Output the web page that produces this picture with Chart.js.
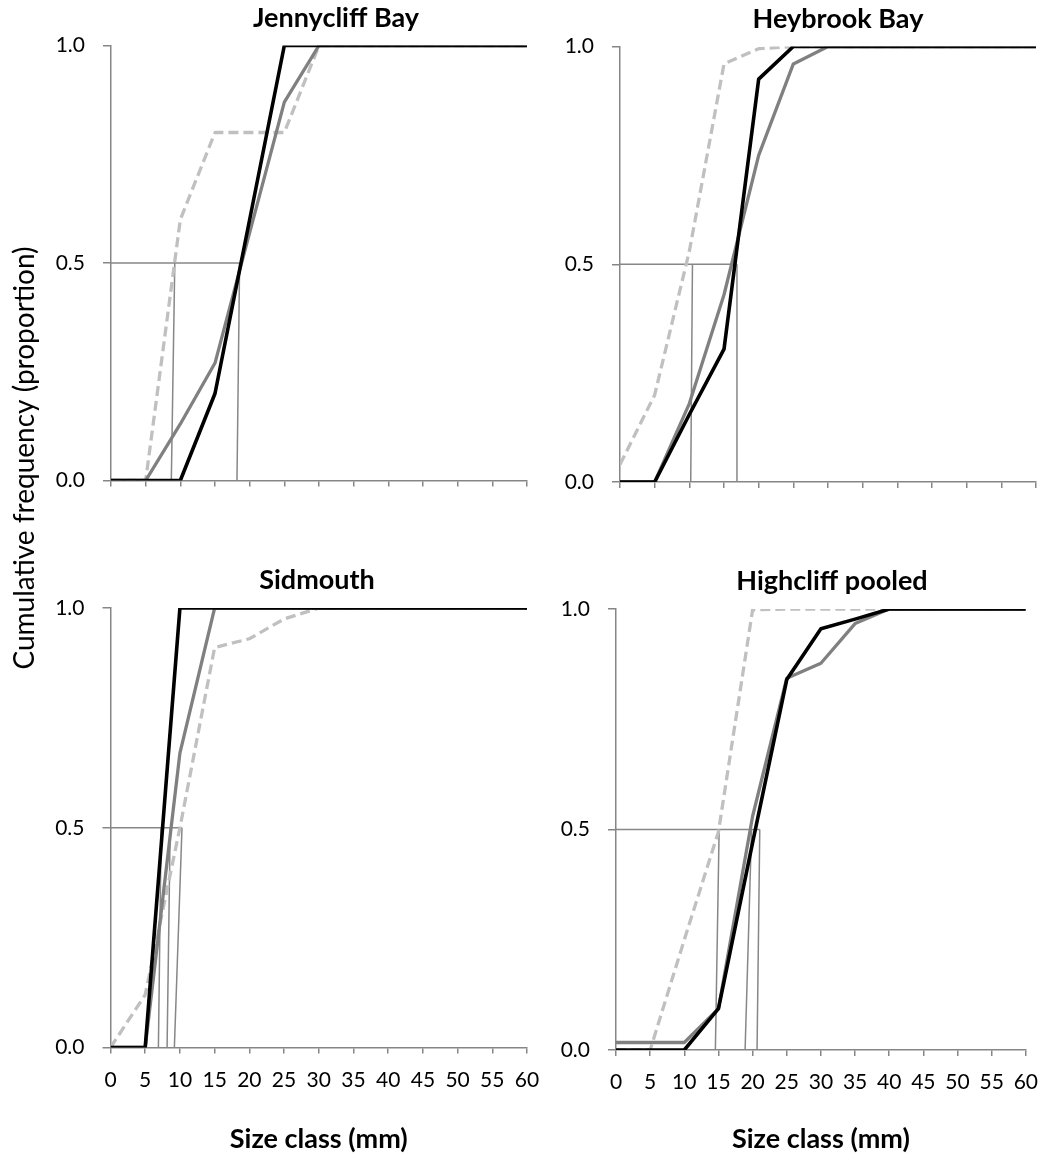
<!DOCTYPE html>
<html><head><meta charset="utf-8">
<script src="https://cdn.jsdelivr.net/npm/chart.js@4.4.1/dist/chart.umd.min.js"></script>
<style>
html,body{margin:0;padding:0;background:#fff;width:1052px;height:1157px;overflow:hidden}
canvas{position:absolute;left:0;top:0}
</style></head><body>
<canvas id="c0" width="1052" height="1157"></canvas>
<canvas id="c1" width="1052" height="1157"></canvas>
<canvas id="c2" width="1052" height="1157"></canvas>
<canvas id="c3" width="1052" height="1157"></canvas>
<script>
// ---- data ----
const sizeClasses = [0, 5, 10, 15, 20, 25, 30, 35, 40, 45, 50, 55, 60];
const yTickLabels = ['0.0', '0.5', '1.0'];
const panelTitles = ['Jennycliff Bay', 'Heybrook Bay', 'Sidmouth', 'Highcliff pooled'];
const xAxisTitle = 'Size class (mm)';
const yAxisTitle = 'Cumulative frequency (proportion)';
const medianLevel = 0.5;

// black solid series
const jennycliffBlack = [0, 0, 0, 0.20, 0.60, 1, 1, 1, 1, 1, 1, 1, 1];
const heybrookBlack   = [0, 0, 0.155, 0.305, 0.925, 1, 1, 1, 1, 1, 1, 1, 1];
const sidmouthBlack   = [0, 0, 1, 1, 1, 1, 1, 1, 1, 1, 1, 1, 1];
const highcliffBlack  = [0, 0, 0, 0.094, 0.47, 0.84, 0.955, 0.977, 1, 1, 1, 1, 1];

// grey solid series
const jennycliffGrey = [0, 0, 0.13, 0.27, 0.57, 0.87, 1, 1, 1, 1, 1, 1, 1];
const heybrookGrey   = [0, 0, 0.18, 0.43, 0.75, 0.96, 1, 1, 1, 1, 1, 1, 1];
const sidmouthGrey   = [0, 0, 0.67, 1, 1, 1, 1, 1, 1, 1, 1, 1, 1];
const highcliffGrey  = [0.017, 0.017, 0.017, 0.094, 0.53, 0.843, 0.877, 0.967, 1, 1, 1, 1, 1];

// light grey dashed series
const jennycliffDashed = [0, 0, 0.60, 0.80, 0.80, 0.80, 1, 1, 1, 1, 1, 1, 1];
const heybrookDashed   = [0.04, 0.20, 0.53, 0.96, 0.995, 1, 1, 1, 1, 1, 1, 1, 1];
const sidmouthDashed   = [0, 0.12, 0.50, 0.91, 0.93, 0.975, 1, 1, 1, 1, 1, 1, 1];
const highcliffDashed  = [0, 0, 0.25, 0.495, 0.998, 1, 1, 1, 1, 1, 1, 1, 1];

// median (50%) size read-offs: x at the 0.5 level and x where the drop line meets 0
const jennycliffMedianTop    = [9.2, 18.55];
const jennycliffMedianBottom = [8.7, 18.17];
const heybrookMedianTop      = [10.45, 16.87];
const heybrookMedianBottom   = [10.2, 16.87];
const sidmouthMedianTop      = [7.3, 8.6, 10.3];
const sidmouthMedianBottom   = [6.9, 8.15, 9.2];
const highcliffMedianTop     = [15.1, 19.85, 21.05];
const highcliffMedianBottom  = [14.55, 18.9, 20.65];

// ---- layout (pixel boxes of each plot area) ----
const boxes = [
  {left: 111,   top: 45.5, right: 527,  bottom: 480.5, titleX: 336, titleBase: 27, showX: false},
  {left: 620,   top: 46.5, right: 1036, bottom: 482,   titleX: 838, titleBase: 28, showX: false},
  {left: 110.5, top: 608,  right: 527,  bottom: 1047.5, titleX: 317, titleBase: 589, showX: true},
  {left: 616,   top: 609,  right: 1031, bottom: 1050,  titleX: 832, titleBase: 590, showX: true}
];

const panels = [
  {title: panelTitles[0], black: jennycliffBlack, grey: jennycliffGrey, dashed: jennycliffDashed, medTop: jennycliffMedianTop, medBottom: jennycliffMedianBottom},
  {title: panelTitles[1], black: heybrookBlack, grey: heybrookGrey, dashed: heybrookDashed, medTop: heybrookMedianTop, medBottom: heybrookMedianBottom},
  {title: panelTitles[2], black: sidmouthBlack, grey: sidmouthGrey, dashed: sidmouthDashed, medTop: sidmouthMedianTop, medBottom: sidmouthMedianBottom},
  {title: panelTitles[3], black: highcliffBlack, grey: highcliffGrey, dashed: highcliffDashed, medTop: highcliffMedianTop, medBottom: highcliffMedianBottom}
];

Chart.defaults.color = '#000';
Chart.defaults.font.family = 'Lato, "Open Sans", sans-serif';

const W = 1052, H = 1157;
const Y_AXIS_W = 70;
const X_AXIS_H_TOP = 20;
const AXIS_COL = '#868686';
const MED_COL = '#878787';

function pts(xs, ys) { return xs.map((x, i) => ({x: x, y: ys[i]})); }

const titlePlugin = {
  id: 'panelTitle',
  afterDraw(chart, args, opts) {
    const ctx = chart.ctx;
    ctx.save();
    ctx.font = 'bold 27px Lato, "Open Sans", sans-serif';
    ctx.fillStyle = '#000';
    ctx.textAlign = 'center';
    ctx.textBaseline = 'alphabetic';
    ctx.fillText(opts.text, opts.x, opts.y);
    if (opts.yTitle) {
      ctx.translate(opts.yTitle.x, opts.yTitle.y);
      ctx.rotate(-Math.PI / 2);
      ctx.font = '28px Lato, "Open Sans", sans-serif';
      ctx.fillText(opts.yTitle.text, 0, 0);
    }
    ctx.restore();
  }
};

panels.forEach((p, idx) => {
  const b = boxes[idx];
  const xH = b.showX ? (H - b.bottom) : X_AXIS_H_TOP;
  const medLine = {borderColor: MED_COL, borderWidth: 1.5, pointRadius: 0, fill: false, tension: 0};
  const datasets = [
    {data: pts(sizeClasses, p.black), borderColor: '#000', borderWidth: 3.6, pointRadius: 0, fill: false, tension: 0, borderJoinStyle: 'round'},
    {data: pts(sizeClasses, p.grey), borderColor: '#808080', borderWidth: 3.3, pointRadius: 0, fill: false, tension: 0, borderJoinStyle: 'round'},
    {data: pts(sizeClasses, p.dashed), borderColor: '#c0c0c0', borderWidth: 3.3, borderDash: [10, 5], pointRadius: 0, fill: false, tension: 0, borderJoinStyle: 'round'},
    Object.assign({data: [{x: 0, y: medianLevel}, {x: Math.max(...p.medTop), y: medianLevel}]}, medLine)
  ];
  p.medTop.forEach((t, i) => {
    datasets.push(Object.assign({data: [{x: t, y: medianLevel}, {x: p.medBottom[i], y: 0}]}, medLine));
  });

  new Chart(document.getElementById('c' + idx), {
    type: 'line',
    data: {datasets: datasets},
    plugins: [titlePlugin],
    options: {
      responsive: false,
      animation: false,
      devicePixelRatio: 1,
      events: [],
      layout: {padding: {left: b.left - Y_AXIS_W, top: b.top, right: W - b.right, bottom: H - b.bottom - xH}},
      plugins: {
        legend: {display: false},
        tooltip: {enabled: false},
        panelTitle: {
          text: p.title, x: b.titleX, y: b.titleBase,
          yTitle: idx === 2 ? {text: yAxisTitle, x: 34, y: 458} : null
        }
      },
      scales: {
        x: {
          type: 'linear', min: 0, max: 60,
          afterFit: s => { s.height = xH; },
          ticks: {stepSize: 5, display: b.showX, padding: 14, maxRotation: 0, autoSkip: false,
                  font: {size: 21}, color: '#000'},
          grid: {display: true, drawOnChartArea: false, drawTicks: true, tickLength: 6, color: AXIS_COL, lineWidth: 1.5},
          border: {display: true, color: AXIS_COL, width: 1.5},
          title: {display: b.showX, text: xAxisTitle, font: {size: 27, weight: 'bold', lineHeight: 1.2}, padding: {top: 0, bottom: 2}, color: '#000'}
        },
        y: {
          type: 'linear', min: 0, max: 1,
          afterFit: s => { s.width = Y_AXIS_W; },
          ticks: {stepSize: 0.5, padding: 18, font: {size: 21}, color: '#000',
                  callback: (v) => yTickLabels[Math.round(v * 2)]},
          grid: {display: true, drawOnChartArea: false, drawTicks: true, tickLength: 8, color: AXIS_COL, lineWidth: 1.5},
          border: {display: true, color: AXIS_COL, width: 1.5}
        }
      }
    }
  });
});
</script>
</body></html>
